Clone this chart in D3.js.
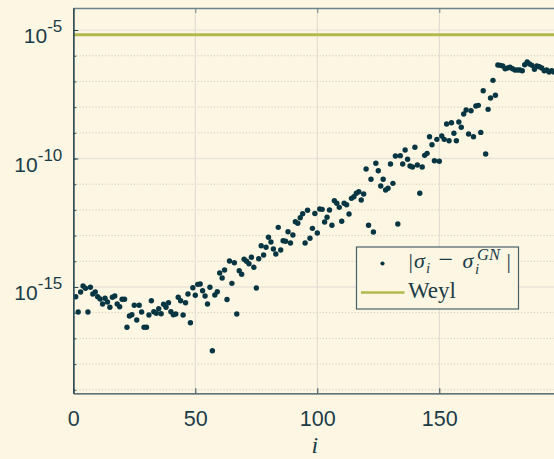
<!DOCTYPE html>
<html>
<head>
<meta charset="utf-8">
<script src="https://cdn.jsdelivr.net/npm/d3@7/dist/d3.min.js"></script>
<style>
  html, body { margin: 0; padding: 0; background: #fdf6e3; }
  svg { display: block; }
</style>
</head>
<body>
<svg id="chart" width="554" height="459"></svg>
<script>
// Singular value differences |sigma_i - sigma_i^GN| for i = 1..198
const errValues = [
  4.19e-16, 1.06e-16, 6.38e-16, 1.09e-15, 8.89e-16, 1.06e-16, 9.72e-16, 5.35e-16, 6.38e-16, 4.19e-16,
  3.41e-16, 2.18e-16, 3.63e-16, 2.61e-16, 1.62e-16, 3.97e-16, 4.47e-16, 2.18e-16, 1.71e-16, 3.32e-16,
  3.32e-16, 2.70e-17, 7.43e-17, 8.36e-17, 1.94e-16, 5.20e-17, 1.94e-16, 1.06e-16, 2.70e-17, 2.70e-17,
  8.13e-17, 2.93e-16, 1.09e-16, 9.46e-17, 1.43e-16, 9.14e-17, 2.12e-16, 1.62e-16, 2.45e-16, 1.09e-16,
  8.36e-17, 8.89e-17, 3.97e-16, 2.93e-16, 8.13e-17, 2.45e-16, 5.35e-16, 4.08e-17, 9.40e-16, 4.75e-16,
  1.27e-15, 1.31e-15, 7.18e-16, 4.47e-16, 2.18e-16, 9.72e-16, 3.32e-18, 4.89e-16, 6.56e-16, 3.51e-15,
  2.24e-15, 4.58e-15, 3.26e-16, 1.03e-14, 1.39e-15, 8.81e-15, 8.89e-17, 4.31e-15, 3.12e-15, 1.20e-14,
  1.00e-14, 8.05e-15, 1.43e-14, 5.83e-15, 9.14e-16, 1.26e-14, 4.05e-14, 1.76e-14, 3.51e-14, 8.59e-14,
  5.64e-14, 3.01e-14, 1.92e-14, 2.10e-13, 2.75e-14, 6.32e-14, 6.00e-14, 1.42e-13, 5.15e-14, 1.05e-13,
  3.48e-13, 3.01e-13, 4.97e-13, 7.11e-13, 5.15e-14, 9.64e-13, 7.85e-14, 1.92e-13, 7.24e-13, 1.26e-13,
  1.08e-12, 1.05e-12, 3.38e-13, 5.15e-13, 9.91e-13, 2.52e-13, 2.28e-12, 1.81e-12, 1.26e-12, 3.60e-13,
  1.81e-12, 1.59e-12, 6.92e-13, 2.82e-12, 3.27e-12, 4.43e-12, 5.11e-12, 2.43e-12, 4.16e-12, 3.90e-11,
  2.52e-13, 1.55e-11, 1.38e-13, 6.50e-11, 3.35e-11, 8.51e-12, 1.55e-11, 5.94e-12, 6.92e-12, 6.11e-11,
  1.08e-11, 1.25e-10, 2.82e-13, 1.29e-10, 6.11e-11, 2.14e-10, 9.31e-11, 5.11e-11, 4.67e-11, 2.73e-10,
  5.58e-11, 4.43e-12, 4.67e-11, 1.33e-10, 1.59e-10, 7.05e-10, 3.44e-10, 8.20e-11, 5.58e-10, 7.78e-11,
  7.50e-10, 5.58e-10, 2.20e-9, 4.93e-10, 2.47e-9, 9.57e-10, 4.93e-10, 2.63e-9, 1.64e-9, 5.38e-9,
  7.71e-9, 8.97e-10, 7.24e-9, 7.05e-10, 1.10e-8, 1.17e-8, 1.04e-9, 4.35e-8, 1.50e-10, 8.20e-9,
  2.26e-8, 1.10e-7, 2.88e-8, 4.35e-7, 4.23e-7, 3.97e-7, 3.12e-7, 3.32e-7, 3.54e-7, 3.12e-7,
  2.78e-7, 2.78e-7, 2.78e-7, 2.61e-7, 4.47e-7, 5.69e-7, 4.75e-7, 4.23e-7, 2.96e-7, 3.97e-7,
  3.73e-7, 3.32e-7, 2.61e-7, 2.78e-7, 2.32e-7, 2.61e-7, 2.32e-7, 2.54e-7
];

// Weyl perturbation bound (constant)
const weylBound = 6.56e-6;

// Axis settings
const xDomain = [0, 200];
const xTicks = [0, 50, 100, 150, 200];
const xTickLabels = ["0", "50", "100", "150", ""];
const yDomain = [7.3e-20, 7.2e-5];
const yMajorExps = [-5, -10, -15];
const yMinorExps = d3.range(-19, -4);   // every decade inside the axes box

const legendLine = "Weyl";

// Colours
const bg = "#fdf6e3";
const ink = "#073642";
const axisInk = "#2e4b54";
const textInk = "#1b3c47";
const weylColor = "#b3b84e";

const svg = d3.select("#chart");
svg.append("rect").attr("width", 554).attr("height", 459).attr("fill", bg);

const box = { left: 73.3, top: 8, right: 561.3, bottom: 393.3 };

const x = d3.scaleLinear().domain(xDomain).range([box.left, box.right]);
const y = d3.scaleLog().domain(yDomain).range([box.bottom, box.top]);

const grid = svg.append("g");

// dotted minor gridlines at each decade
grid.selectAll("line.minor")
  .data(yMinorExps.filter(e => !yMajorExps.includes(e)))
  .join("line")
  .attr("x1", box.left).attr("x2", box.right)
  .attr("y1", e => y(Math.pow(10, e))).attr("y2", e => y(Math.pow(10, e)))
  .attr("stroke", "#c9c4b5").attr("stroke-width", 1)
  .attr("stroke-dasharray", "1,2.2");

// solid major gridlines
grid.selectAll("line.major")
  .data(yMajorExps)
  .join("line")
  .attr("x1", box.left).attr("x2", box.right)
  .attr("y1", e => y(Math.pow(10, e))).attr("y2", e => y(Math.pow(10, e)))
  .attr("stroke", "#e9e5da").attr("stroke-width", 1.3);

grid.selectAll("line.vx")
  .data(xTicks.filter(t => t > 0))
  .join("line")
  .attr("x1", d => x(d)).attr("x2", d => x(d))
  .attr("y1", box.top).attr("y2", box.bottom)
  .attr("stroke", "#dedad1").attr("stroke-width", 1);

// Weyl bound line
svg.append("line")
  .attr("x1", box.left).attr("x2", box.right)
  .attr("y1", y(weylBound)).attr("y2", y(weylBound))
  .attr("stroke", weylColor).attr("stroke-width", 3);

// scatter of differences
svg.append("g")
  .selectAll("circle")
  .data(errValues)
  .join("circle")
  .attr("cx", (d, i) => x(i + 1))
  .attr("cy", d => y(d))
  .attr("r", 2.7)
  .attr("fill", ink);

// axes (ticks point inward)
const styleAxis = (g, color, width) => {
  g.select(".domain").attr("stroke", color).attr("stroke-width", width);
  g.selectAll(".tick line").attr("stroke", color).attr("stroke-width", 1);
};

svg.append("g")
  .attr("transform", `translate(0,${box.top})`)
  .call(d3.axisTop(x).tickValues(xTicks).tickSizeInner(-5).tickSizeOuter(0).tickFormat(""))
  .call(g => styleAxis(g, "#6d848a", 1.4));

const xAxis = svg.append("g")
  .attr("transform", `translate(0,${box.bottom})`)
  .call(d3.axisBottom(x).tickValues(xTicks).tickSizeInner(-5).tickSizeOuter(0).tickPadding(17)
    .tickFormat((d, i) => xTickLabels[i]))
  .call(g => styleAxis(g, axisInk, 1.3));
xAxis.selectAll(".tick text")
  .attr("fill", textInk)
  .attr("font-family", "'Liberation Sans', Arial, Helvetica, sans-serif")
  .attr("font-size", 21.5);

svg.append("g")
  .attr("transform", `translate(${box.left},0)`)
  .call(d3.axisLeft(y).tickValues(yMinorExps.map(e => Math.pow(10, e))).tickSizeInner(-3).tickSizeOuter(0).tickFormat(""))
  .call(g => styleAxis(g, axisInk, 1.3));

const yAxis = svg.append("g")
  .attr("transform", `translate(${box.left},0)`)
  .call(d3.axisLeft(y).tickValues(yMajorExps.map(e => Math.pow(10, e))).tickSizeInner(-5).tickSizeOuter(0).tickPadding(11).tickFormat(""))
  .call(g => styleAxis(g, axisInk, 1.3));

// labels written as 10 with a raised exponent
yAxis.selectAll(".tick text")
  .attr("fill", textInk)
  .attr("font-family", "'Liberation Sans', Arial, Helvetica, sans-serif")
  .attr("font-size", 21)
  .attr("dy", 12.5)
  .each(function(d) {
    const t = d3.select(this);
    const exp = Math.round(Math.log10(d));
    t.append("tspan").text("10");
    t.append("tspan").attr("dy", -11).attr("font-size", 17).text(String(exp));
  });

// x-axis title
svg.append("text")
  .attr("x", x(99)).attr("y", 453)
  .attr("text-anchor", "middle")
  .attr("font-family", "'Liberation Serif', 'DejaVu Serif', serif")
  .attr("font-style", "italic")
  .attr("font-size", 24)
  .attr("fill", textInk)
  .text("i");

// legend
const lg = svg.append("g").attr("transform", "translate(356.5,247)");
lg.append("rect")
  .attr("width", 162).attr("height", 62)
  .attr("fill", bg).attr("stroke", "#46636c").attr("stroke-width", 1.2);

lg.append("circle").attr("cx", 26).attr("cy", 16.5).attr("r", 2.1).attr("fill", ink);
lg.append("line").attr("x1", 4.5).attr("x2", 48).attr("y1", 45.5).attr("y2", 45.5)
  .attr("stroke", weylColor).attr("stroke-width", 2.6);

// legend entry |σ_i − σ_i^{GN}| set piece by piece
const serif = "'Liberation Serif', 'DejaVu Serif', serif";
const math = lg.append("text")
  .attr("y", 21).attr("font-family", serif).attr("font-size", 22).attr("fill", textInk);
math.append("tspan").attr("x", 52).text("|");
math.append("tspan").attr("x", 57.5).attr("font-style", "italic").text("σ");
math.append("tspan").attr("x", 69.5).attr("dy", 5).attr("font-size", 15).attr("font-style", "italic").text("i");
math.append("tspan").attr("x", 82).attr("dy", -5).attr("font-size", 26).text("−");
math.append("tspan").attr("x", 106).attr("font-style", "italic").text("σ");
math.append("tspan").attr("x", 118.5).attr("dy", 5.5).attr("font-size", 15).attr("font-style", "italic").text("i");
math.append("tspan").attr("x", 120.5).attr("dy", -14).attr("font-size", 16.5).attr("font-style", "italic").text("GN");
math.append("tspan").attr("x", 150).attr("dy", 8.5).text("|");

lg.append("text")
  .attr("x", 51.5).attr("y", 51)
  .attr("font-family", serif).attr("font-size", 23).attr("fill", textInk)
  .text(legendLine);
</script>
</body>
</html>
